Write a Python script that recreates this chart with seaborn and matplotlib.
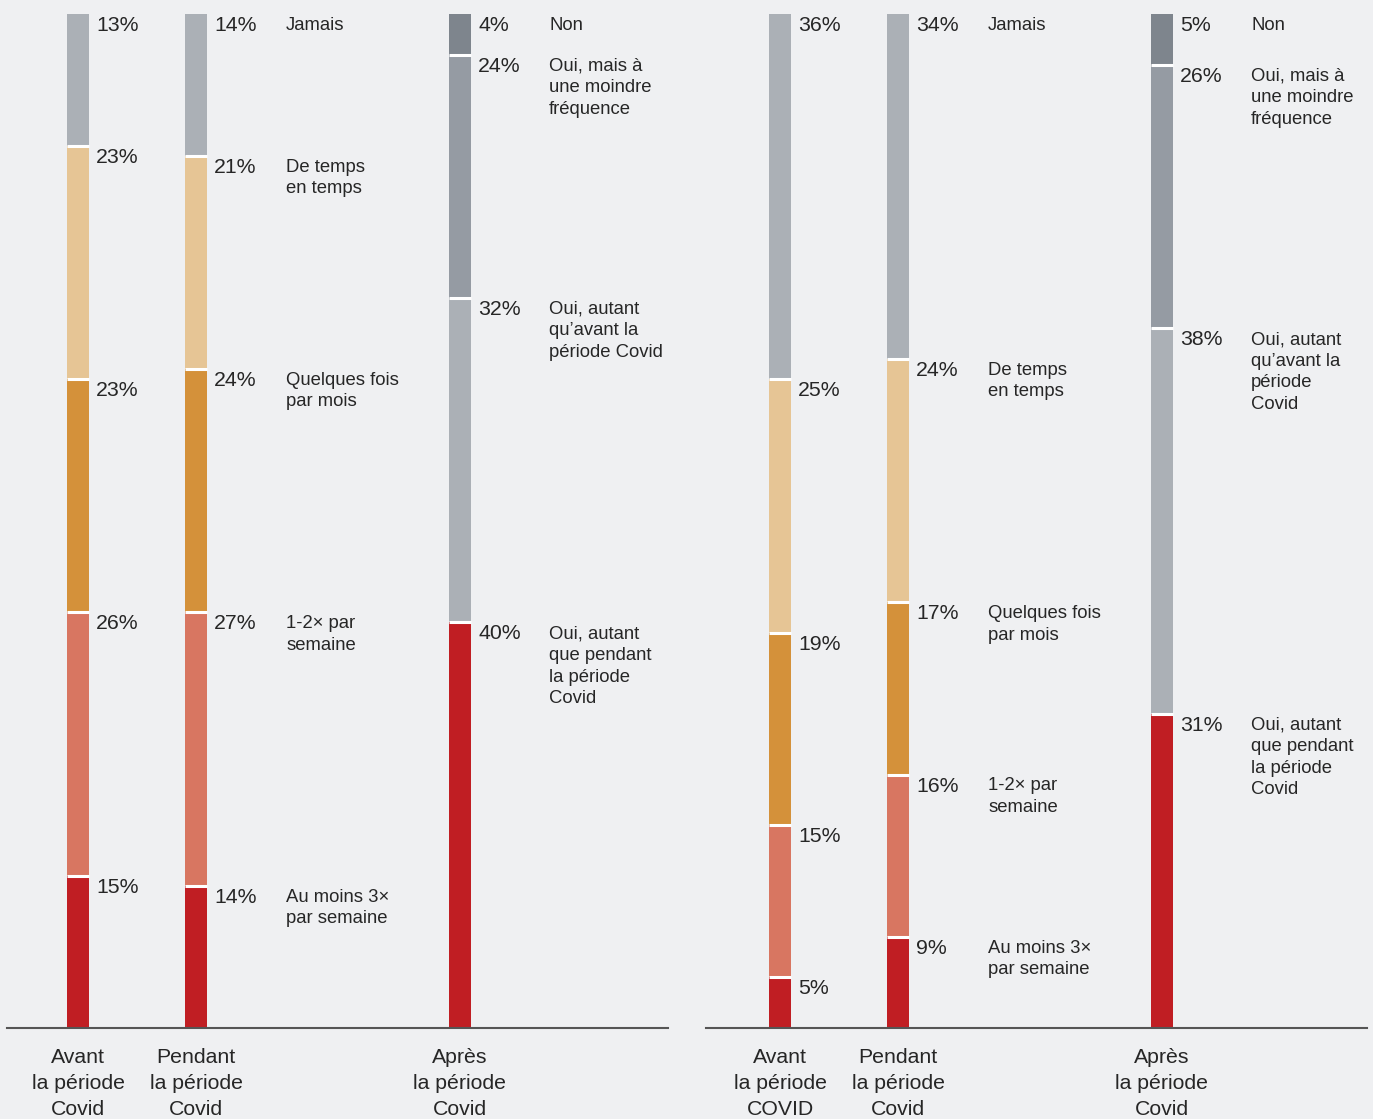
import numpy as np
import pandas as pd
import matplotlib
matplotlib.use("Agg")
import matplotlib.pyplot as plt
import seaborn as sns

sns.set_theme(style="white")
plt.rcParams['font.family'] = ['Liberation Sans', 'DejaVu Sans']

BG = "#eff0f2"
TEXT = "#262626"

# Frequency categories (bottom to top)
freq_labels = ["Au moins 3×\npar semaine", "1-2× par\nsemaine", "Quelques fois\npar mois",
               "De temps\nen temps", "Jamais"]
freq_colors = ["#c01e23", "#d87661", "#d4913a", "#e6c595", "#abb0b6"]

# Answers for the "after" bar (bottom to top)
after_labels_1 = ["Oui, autant\nque pendant\nla période\nCovid", "Oui, autant\nqu’avant la\npériode Covid",
                  "Oui, mais à\nune moindre\nfréquence", "Non"]
after_labels_2 = ["Oui, autant\nque pendant\nla période\nCovid", "Oui, autant\nqu’avant la\npériode\nCovid",
                  "Oui, mais à\nune moindre\nfréquence", "Non"]
after_colors = ["#c01e23", "#abb0b6", "#959ba3", "#7e858d"]

# Left panel
avant_1 = [15, 26, 23, 23, 13]
pendant_1 = [14, 27, 24, 21, 14]
apres_1 = [40, 32, 24, 4]
period_labels_1 = ["Avant\nla période\nCovid", "Pendant\nla période\nCovid", "Après\nla période\nCovid"]

# Right panel
avant_2 = [5, 15, 19, 25, 36]
pendant_2 = [9, 16, 17, 24, 34]
apres_2 = [31, 38, 26, 5]
period_labels_2 = ["Avant\nla période\nCOVID", "Pendant\nla période\nCovid", "Après\nla période\nCovid"]

positions = [0.0, 1.0, 3.237]
BAR_W = 0.19


def draw_stack(ax, pos, values, colors, labels=None, label_x=None):
    values = np.asarray(values, dtype=float)
    tops = np.cumsum(values)
    # tallest cumulative bar first so that shorter ones sit on top
    order = np.argsort(-tops)
    for i in order:
        sns.barplot(x=[pos], y=[tops[i]], color=colors[i], native_scale=True,
                    width=BAR_W, saturation=1, linewidth=0, ax=ax)
    # white separators between segments
    ax.hlines(tops[:-1], pos - BAR_W / 2, pos + BAR_W / 2, colors="white",
              linewidth=2.2, zorder=4)
    for i, (v, t) in enumerate(zip(values, tops)):
        ax.annotate(f"{int(v)}%", xy=(pos + BAR_W / 2, t), xytext=(5, -1.5),
                    textcoords="offset points", ha="left", va="top",
                    fontsize=15.3, color=TEXT)
        if labels is not None:
            ax.annotate(labels[i], xy=(label_x, t), xytext=(0, -2),
                        textcoords="offset points", ha="left", va="top",
                        fontsize=13.3, color=TEXT, linespacing=1.36)


fig = plt.figure(figsize=(13.73, 11.19), dpi=100, facecolor=BG)
W, H = 1373, 1119
ax1 = fig.add_axes([7 / W, (H - 1028) / H, 661 / W, 1014 / H])
ax2 = fig.add_axes([706 / W, (H - 1028) / H, 661 / W, 1014 / H])

panels = [
    (ax1, avant_1, pendant_1, apres_1, after_labels_1, period_labels_1, (-71 / 118, 590 / 118)),
    (ax2, avant_2, pendant_2, apres_2, after_labels_2, period_labels_2, (-74 / 118, 587 / 118)),
]

for ax, av, pe, ap, alabels, plabels, xlim in panels:
    ax.set_facecolor(BG)
    draw_stack(ax, positions[0], av, freq_colors)
    draw_stack(ax, positions[1], pe, freq_colors, labels=freq_labels,
               label_x=positions[1] + BAR_W / 2 + 79 / 118)
    draw_stack(ax, positions[2], ap, after_colors, labels=alabels,
               label_x=positions[2] + BAR_W / 2 + 78 / 118)
    ax.set_xlim(*xlim)
    ax.set_ylim(0, 100)
    ax.set_xticks(positions)
    ax.set_xticklabels(plabels, fontsize=15.3, color=TEXT, linespacing=1.46)
    ax.tick_params(axis="x", length=0, pad=14.5)
    ax.set_yticks([])
    ax.set_xlabel("")
    ax.set_ylabel("")
    for s in ["top", "left", "right"]:
        ax.spines[s].set_visible(False)
    ax.spines["bottom"].set_color("#555555")
    ax.spines["bottom"].set_linewidth(1.5)
    ax.spines["bottom"].set_zorder(5)

fig.savefig("out.png", dpi=100, facecolor=BG)
